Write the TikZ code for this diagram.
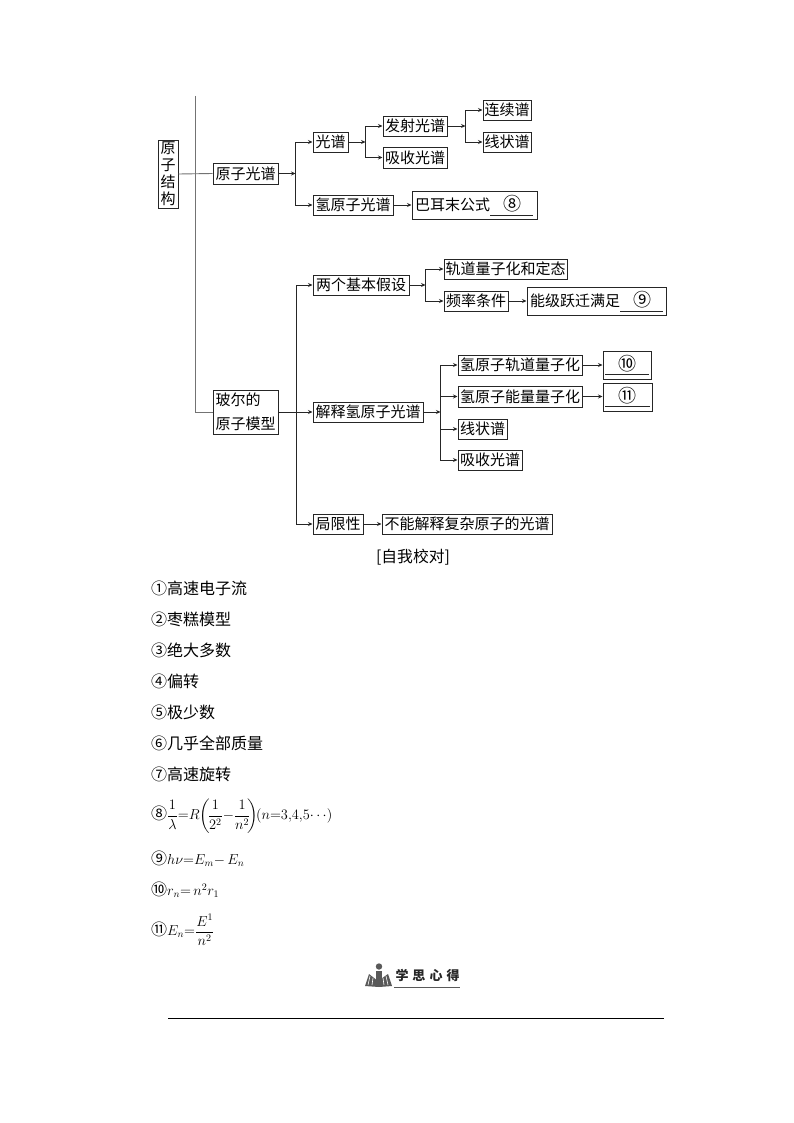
\documentclass[tikz,border=0pt]{standalone}
\usepackage{amsmath}
\usepackage{fontspec}
\setmainfont{Noto Sans CJK SC}
\usetikzlibrary{arrows.meta}
\definecolor{lineink}{gray}{0.15}
\definecolor{trunk}{gray}{0.45}
\definecolor{iconink}{gray}{0.35}
\newcommand{\mathsized}[1]{{\fontsize{14.4}{18}\selectfont$#1$}}
\tikzset{
 bx/.style={draw=lineink,line width=0.8pt,inner sep=0pt,outer sep=0.5pt,align=center,fill=white,font=\fontsize{15}{24}\selectfont},
 conn/.style={draw=lineink,line width=0.8pt,-{Stealth[length=4.5pt,width=4pt]}},
 blank/.style={draw=lineink,line width=0.8pt},
 gline/.style={draw=trunk,line width=0.9pt},
 ans/.style={inner sep=0pt,anchor=west,font=\fontsize{16}{18}\selectfont},
 fillin/.style={inner sep=0pt,font=\fontsize{18}{20}\selectfont}
}
\begin{document}
\begin{tikzpicture}[x=1pt,y=-1pt]
\useasboundingbox (0,0) rectangle (794,1123);
\fill[white] (0,0) rectangle (794,1123);
% Boxes
\node[bx,minimum width=20pt,minimum height=68pt,font=\fontsize{15}{17}\selectfont] (root) at (168,174) {原\\子\\结\\构};
\node[bx,minimum width=65pt,minimum height=21pt] (yzgp) at (245.5,173.5) {原子光谱};
\node[bx,minimum width=65pt,minimum height=44pt,align=left] (beg) at (245.5,412) {玻尔的\\原子模型};
\node[bx,minimum width=35pt,minimum height=20pt] (gp) at (330.5,142) {光谱};
\node[bx,minimum width=80pt,minimum height=20pt] (qgp) at (353,205) {氢原子光谱};
\node[bx,minimum width=64pt,minimum height=20pt] (fs) at (415,126) {发射光谱};
\node[bx,minimum width=64pt,minimum height=21pt] (xs) at (415,157.5) {吸收光谱};
\node[bx,minimum width=48pt,minimum height=20pt] (lxp) at (507,110) {连续谱};
\node[bx,minimum width=48pt,minimum height=20pt] (xzp) at (507,142) {线状谱};
\node[bx,minimum width=125pt,minimum height=28pt] (bem) at (474.5,205) {};
\node[inner sep=0pt,anchor=west,font=\fontsize{15}{18}\selectfont] (bemt) at (415,205) {巴耳末公式};
\node[fillin] (n8) at (512,204) {⑧};
\node[bx,minimum width=96pt,minimum height=20pt] (lg) at (361,285) {两个基本假设};
\node[bx,minimum width=123pt,minimum height=20pt] (gd) at (505.5,269) {轨道量子化和定态};
\node[bx,minimum width=64pt,minimum height=20pt] (pl) at (476,301) {频率条件};
\node[bx,minimum width=139pt,minimum height=28pt] (nj) at (596.5,301) {};
\node[inner sep=0pt,anchor=west,font=\fontsize{15}{18}\selectfont] (njt) at (530,300.5) {能级跃迁满足};
\node[fillin] (n9) at (642,300) {⑨};
\node[bx,minimum width=110pt,minimum height=20pt] (js) at (368,412) {解释氢原子光谱};
\node[bx,minimum width=124pt,minimum height=20pt] (q1) at (520,365) {氢原子轨道量子化};
\node[bx,minimum width=124pt,minimum height=21pt] (q2) at (520,396.5) {氢原子能量量子化};
\node[bx,minimum width=49pt,minimum height=20pt] (xz2) at (482.5,429) {线状谱};
\node[bx,minimum width=64pt,minimum height=20pt] (xs2) at (490,460) {吸收光谱};
\node[bx,minimum width=48pt,minimum height=28pt] (b10) at (627,365) {};
\node[fillin] (n10) at (627,364) {⑩};
\node[bx,minimum width=49pt,minimum height=28pt] (b11) at (627.5,397) {};
\node[fillin] (n11) at (627.5,396) {⑪};
\node[bx,minimum width=50pt,minimum height=20pt] (jx) at (338,524) {局限性};
\node[bx,minimum width=170pt,minimum height=20pt] (bn) at (467,524) {不能解释复杂原子的光谱};
% blanks
\coordinate (u8a) at (490,215); \coordinate (u8b) at (533,215);
\coordinate (u9a) at (620,311); \coordinate (u9b) at (663,311);
\coordinate (u10a) at (605,374); \coordinate (u10b) at (649,374);
\coordinate (u11a) at (605,406); \coordinate (u11b) at (650,406);
\draw[blank] (u8a) -- (u8b);
\draw[blank] (u9a) -- (u9b);
\draw[blank] (u10a) -- (u10b);
\draw[blank] (u11a) -- (u11b);
% Trunk
\coordinate (t0) at (195,96);
\coordinate (t1) at (195,412);
\draw[gline] (t0) -- (t1) -- (beg.west);
\draw[gline] (root.east) -- (yzgp.west);
% Level 2
\coordinate (j1) at (295.5,173.5);
\draw[conn] (yzgp.east) -- (j1);
\draw[conn] (j1) |- (gp.west);
\draw[conn] (j1) |- (qgp.west);
\coordinate (j2) at (365.5,142);
\draw[conn] (gp.east) -- (j2);
\draw[conn] (j2) |- (fs.west);
\draw[conn] (j2) |- (xs.west);
\coordinate (j3) at (465.5,126);
\draw[conn] (fs.east) -- (j3);
\draw[conn] (j3) |- (lxp.west);
\draw[conn] (j3) |- (xzp.west);
\draw[conn] (qgp.east) -- (bem.west);
\coordinate (j4) at (296,412);
\draw[conn] (beg.east) -- (js.west);
\draw[conn] (j4) |- (lg.west);
\draw[conn] (j4) |- (jx.west);
\coordinate (j5) at (425.5,285);
\draw[conn] (lg.east) -- (j5);
\draw[conn] (j5) |- (gd.west);
\draw[conn] (j5) |- (pl.west);
\draw[conn] (pl.east) -- (nj.west);
\coordinate (j6) at (440.5,412);
\draw[conn] (js.east) -- (j6);
\draw[conn] (j6) |- (q1.west);
\draw[conn] (j6) |- (q2.west);
\draw[conn] (j6) |- (xz2.west);
\draw[conn] (j6) |- (xs2.west);
\draw[conn] (q1.east) -- (b10.west);
\draw[conn] (q2.east) -- (b11.west |- q2.east);
\draw[conn] (jx.east) -- (bn.west);
% Text
\node[inner sep=0pt,font=\fontsize{15.8}{18}\selectfont] (jiao) at (413,557.5) {[自我校对]};
\node[ans] (a1) at (151,588.5) {①高速电子流};
\node[ans] (a2) at (151,619.5) {②枣糕模型};
\node[ans] (a3) at (151,650.5) {③绝大多数};
\node[ans] (a4) at (151,681.5) {④偏转};
\node[ans] (a5) at (151,712.5) {⑤极少数};
\node[ans] (a6) at (151,743.5) {⑥几乎全部质量};
\node[ans] (a7) at (151,774.5) {⑦高速旋转};
\node[ans] (a8) at (151,816) {⑧\mathsized{\dfrac{1}{\lambda}{=}R\!\left(\!\dfrac{1}{2^2}{-}\dfrac{1}{n^2}\!\right)\!\!(n{=}3{,}4{,}5{\cdots})}};
\node[ans] (a9) at (151,859) {⑨\mathsized{h\nu{=}E_m{-}\,E_n}};
\node[ans] (a10) at (151,890) {⑩\mathsized{r_n{=}\,n^2r_1}};
\node[ans] (a11) at (151,930) {⑪\mathsized{E_n{=}\dfrac{E^1}{n^2}}};
% Study-notes mark
\fill[iconink] (379,966.5) circle (3.2);
\fill[iconink] (375.5,971) rectangle (382,985);
\fill[iconink] (365,986) -- (369,974) -- (378,981) -- (388,974) -- (392,986) -- (379,987) -- cycle;
\draw[white,line width=0.6pt] (370,976) -- (368,985) (373,978) -- (372,985) (386,976) -- (388,985) (383,978) -- (384,985);
\node[inner sep=0pt,font=\fontsize{13}{15}\bfseries\selectfont,text=lineink] (xs3) at (427.5,975) {学\hspace{4pt}思\hspace{4pt}心\hspace{4pt}得};
\coordinate (xa) at (394,987); \coordinate (xb) at (460,987);
\draw[draw=iconink,line width=0.8pt] (xa) -- (xb);
\coordinate (fa) at (168,1018.5); \coordinate (fb) at (664,1018.5);
\draw[draw=black,line width=0.9pt] (fa) -- (fb);
\end{tikzpicture}
\end{document}
